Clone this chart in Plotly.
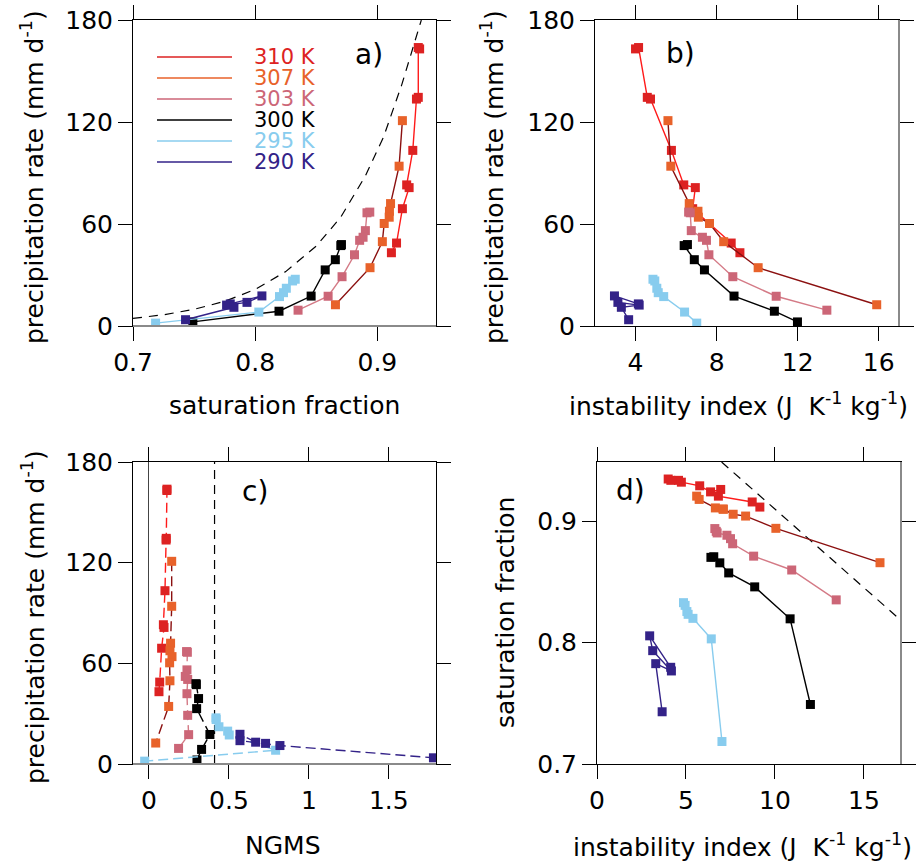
import plotly.graph_objects as go

# ---------------- data ----------------
temps = ["310 K", "307 K", "303 K", "300 K", "295 K", "290 K"]

sat_310 = [0.9346, 0.9335, 0.9335, 0.9320, 0.9290, 0.9240, 0.9260, 0.9205, 0.9157, 0.9115]
inst_310 = [4.00, 4.15, 4.58, 4.74, 5.77, 6.38, 6.95, 6.82, 8.72, 9.15]
prec_310 = [163.0, 163.8, 134.5, 133.5, 103.3, 83.0, 81.4, 69.0, 48.8, 43.1]
ngms_310 = [0.112, 0.1125, 0.108, 0.107, 0.100, 0.090, 0.094, 0.079, 0.067, 0.0625]

sat_307 = [0.9205, 0.9178, 0.9108, 0.9099, 0.9097, 0.9056, 0.9041, 0.8940, 0.8657]
inst_307 = [5.60, 5.74, 6.65, 7.08, 7.10, 7.65, 8.35, 10.05, 15.90]
prec_307 = [120.8, 94.0, 72.0, 67.5, 64.0, 60.3, 49.6, 34.3, 12.5]
ngms_307 = [0.142, 0.142, 0.135, 0.131, 0.144, 0.129, 0.131, 0.123, 0.042]

sat_303 = [0.8938, 0.8915, 0.8902, 0.8883, 0.8855, 0.8813, 0.8711, 0.8597, 0.8351]
inst_303 = [6.62, 6.70, 6.75, 7.30, 7.50, 7.62, 8.80, 10.94, 13.44]
prec_303 = [67.0, 66.6, 56.1, 52.2, 50.4, 41.9, 29.0, 17.5, 9.3]
ngms_303 = [0.235, 0.240, 0.2375, 0.227, 0.242, 0.2375, 0.242, 0.248, 0.185]

sat_300 = [0.8706, 0.8701, 0.8656, 0.8573, 0.8458, 0.8195, 0.7490]
inst_300 = [6.56, 6.40, 6.90, 7.40, 8.86, 10.85, 11.99]
prec_300 = [47.9, 47.3, 39.0, 33.0, 17.6, 8.7, 2.4]
ngms_300 = [0.294, 0.296, 0.310, 0.298, 0.381, 0.329, 0.300]

sat_295 = [0.8328, 0.8306, 0.8255, 0.8232, 0.8199, 0.8030, 0.7185]
inst_295 = [4.86, 4.95, 5.05, 5.12, 5.39, 6.42, 7.02]
prec_295 = [27.5, 26.5, 22.2, 19.6, 17.3, 8.2, 1.7]
ngms_295 = [0.419, 0.420, 0.4375, 0.492, 0.502, 0.792, -0.027]

sat_290 = [0.7796, 0.8055, 0.7933, 0.7766, 0.7826, 0.7430]
inst_290 = [4.14, 2.96, 3.13, 4.18, 3.30, 3.66]
prec_290 = [13.0, 17.7, 13.9, 12.3, 11.0, 3.7]
ngms_290 = [0.667, 0.569, 0.569, 0.729, 0.819, 1.779]

# reference curves
curve_sat = [0.700, 0.725, 0.750, 0.775, 0.800, 0.825, 0.850, 0.870, 0.890, 0.905, 0.920, 0.930, 0.936]
curve_prec = [4.5, 6.6, 9.8, 14.5, 21.5, 32.0, 47.0, 64.0, 88.0, 111.0, 142.0, 166.0, 180.0]
ngms_threshold = 0.41
dline_inst = [7.0, 17.08]
dline_sat = [0.9486, 0.8182]

# ---------------- styling ----------------
marker_colors = ["#DD2222", "#E8622A", "#CC6677", "#000000", "#88CCEE", "#332288"]
line_colors = ["#FF1A1A", "#8B1010", "#D47A86", "#000000", "#88CCEE", "#332288"]

series = [
    (sat_310, inst_310, prec_310, ngms_310),
    (sat_307, inst_307, prec_307, ngms_307),
    (sat_303, inst_303, prec_303, ngms_303),
    (sat_300, inst_300, prec_300, ngms_300),
    (sat_295, inst_295, prec_295, ngms_295),
    (sat_290, inst_290, prec_290, ngms_290),
]

W, H = 918, 862
FONT = "DejaVu Sans"

fig = go.Figure()

# dashed reference lines
fig.add_trace(go.Scatter(x=curve_sat, y=curve_prec, mode="lines", xaxis="x", yaxis="y",
                         line=dict(color="black", width=1.2, dash="9px,7px"),
                         showlegend=False, hoverinfo="skip"))
fig.add_trace(go.Scatter(x=dline_inst, y=dline_sat, mode="lines", xaxis="x4", yaxis="y4",
                         line=dict(color="black", width=1.2, dash="9px,7px"),
                         showlegend=False, hoverinfo="skip"))
fig.add_trace(go.Scatter(x=[ngms_threshold, ngms_threshold], y=[0, 180], mode="lines",
                         xaxis="x3", yaxis="y3",
                         line=dict(color="black", width=1.2, dash="9px,6px"),
                         showlegend=False, hoverinfo="skip"))

for i, (sat, inst, prec, ngms) in enumerate(series):
    mk = dict(symbol="square", size=9, color=marker_colors[i])
    for xs, ys, xa, ya, dash in [
        (sat, prec, "x", "y", "solid"),
        (inst, prec, "x2", "y2", "solid"),
        (ngms, prec, "x3", "y3", "10px,5px"),
        (inst, sat, "x4", "y4", "solid"),
    ]:
        fig.add_trace(go.Scatter(x=xs, y=ys, mode="lines+markers", xaxis=xa, yaxis=ya,
                                 marker=mk, line=dict(color=line_colors[i], width=1.4, dash=dash),
                                 name=temps[i], showlegend=False))


def ax(domain, rng, tickvals, ticktext, anchor, **kw):
    d = dict(domain=domain, range=rng, tickvals=tickvals, ticktext=ticktext, anchor=anchor,
             automargin=False,
             showline=True, linecolor="black", linewidth=1, mirror="ticks",
             ticks="outside", ticklen=14, tickwidth=1, tickcolor="black",
             showgrid=False, zeroline=False,
             tickfont=dict(family=FONT, size=25, color="black"))
    d.update(kw)
    return d


xa_dom = [133 / W, 436 / W]
xb_dom = [595 / W, 899 / W]
xd_dom = [597 / W, 901 / W]
ytop_dom = [1 - 326 / H, 1 - 20 / H]
ybot_dom = [1 - 764 / H, 1 - 462 / H]

prec_ticks = [0, 60, 120, 180]

fig.update_layout(
    width=W, height=H, margin=dict(l=0, r=0, t=0, b=0, autoexpand=False),
    paper_bgcolor="white", plot_bgcolor="white",
    font=dict(family=FONT, size=25, color="black"),
    showlegend=False,
    xaxis=ax(xa_dom, [0.7, 0.948], [0.7, 0.8, 0.9], ["0.7", "0.8", "0.9"], "y"),
    yaxis=ax(ytop_dom, [0, 180], prec_ticks, [str(v) for v in prec_ticks], "x"),
    xaxis2=ax(xb_dom, [2, 17], [4, 8, 12, 16], ["4", "8", "12", "16"], "y2"),
    yaxis2=ax(ytop_dom, [0, 180], prec_ticks, [str(v) for v in prec_ticks], "x2"),
    xaxis3=ax(xa_dom, [-0.1, 1.795], [0, 0.5, 1, 1.5], ["0", "0.5", "1", "1.5"], "y3",
              zeroline=True, zerolinecolor="#444444", zerolinewidth=1.2),
    yaxis3=ax(ybot_dom, [0, 180], prec_ticks, [str(v) for v in prec_ticks], "x3"),
    xaxis4=ax(xd_dom, [0, 17.08], [0, 5, 10, 15], ["0", "5", "10", "15"], "y4"),
    yaxis4=ax(ybot_dom, [0.7, 0.9486], [0.7, 0.8, 0.9], ["0.7", "0.8", "0.9"], "x4"),
)

annotations = []


def label(text, px, py, size=25, angle=0, xanchor="center", color="black"):
    annotations.append(dict(text=text, x=px / W, y=1 - py / H, xref="paper", yref="paper",
                            xanchor=xanchor, yanchor="middle", showarrow=False, textangle=angle,
                            font=dict(family=FONT, size=size, color=color)))


prec_title = "precipitation rate (mm d<sup>-1</sup>)"
inst_title = "instability index (J&nbsp; K<sup>-1</sup> kg<sup>-1</sup>)"

label(prec_title, 33, 177, angle=-90)
label(prec_title, 33, 617, angle=-90)
label(prec_title, 493, 177, angle=-90)
label("saturation fraction", 505, 613, angle=-90)
label("saturation fraction", 284, 406)
label(inst_title, 738, 404)
label("NGMS", 283, 845)
label(inst_title, 742, 845)

label("a)", 369, 55, size=28)
label("b)", 680, 53, size=28)
label("c)", 255, 492, size=28)
label("d)", 630, 490, size=28)

# legend (panel a)
shapes = []
leg_y = [57, 78, 99, 120, 141, 162]
for i, t in enumerate(temps):
    py = leg_y[i]
    shapes.append(dict(type="line", xref="paper", yref="paper",
                       x0=157 / W, x1=232 / W, y0=1 - py / H, y1=1 - py / H,
                       line=dict(color=marker_colors[i], width=1.4)))
    label(t, 252, py, size=21, xanchor="left", color=marker_colors[i])

# grey frame edges seen in the reference
GREY = "#8a8a8a"
for xr, yr, x0, x1, y0, y1 in [
    ("x domain", "y domain", 0, 1, 0, 0),      # panel a bottom
    ("x2 domain", "y2 domain", 1, 1, 0, 1),    # panel b right
    ("x3 domain", "y3 domain", 0, 1, 0, 0),    # panel c bottom
    ("x4 domain", "y4 domain", 1, 1, 0, 1),    # panel d right
]:
    shapes.append(dict(type="line", xref=xr, yref=yr, x0=x0, x1=x1, y0=y0, y1=y1,
                       layer="above", line=dict(color=GREY, width=2)))

fig.update_layout(annotations=annotations, shapes=shapes)

fig.write_html("out.html")
